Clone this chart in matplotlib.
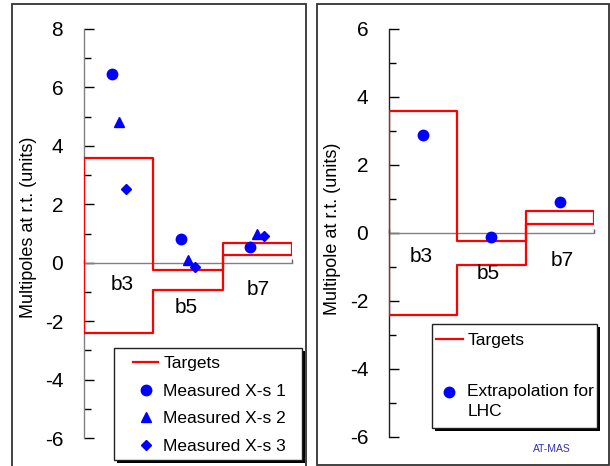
import numpy as np
import matplotlib
matplotlib.use("Agg")
import matplotlib.pyplot as plt
from matplotlib.patches import Rectangle

plt.rcParams['font.family'] = ['Liberation Sans', 'DejaVu Sans']

# ---------------- data ----------------
categories = ['b3', 'b5', 'b7']
target_upper = [3.6, -0.25, 0.66]
target_lower = [-2.4, -0.94, 0.27]
measured_1 = [6.45, 0.81, 0.54]
measured_2 = [4.83, 0.08, 0.99]
measured_3 = [2.53, -0.16, 0.90]
extrapolation_lhc = [2.87, -0.11, 0.90]

left_yticks = [-6, -4, -2, 0, 2, 4, 6, 8]
right_yticks = [-6, -4, -2, 0, 2, 4, 6]

# label placement (y in data units)
left_cat_label_y = [-0.75, -1.53, -0.92]
right_cat_label_y = [-0.68, -1.19, -0.80]

W, H = 610, 466
fig = plt.figure(figsize=(W / 100, H / 100), dpi=100)


def px_rect(x0, y0, x1, y1):
    """pixel box (top-left origin) -> figure fraction [l, b, w, h]"""
    return [x0 / W, 1 - y1 / H, (x1 - x0) / W, (y1 - y0) / H]


# outer panel frames
fig.patches.append(Rectangle((12 / W, -0.05), (305.5 - 12) / W, 1.05 - 4 / H,
                             transform=fig.transFigure, fill=False,
                             edgecolor='#333333', linewidth=1.3, zorder=0))
fig.patches.append(Rectangle((316.5 / W, 1 - 465 / H), (609 - 316.5) / W, (465 - 4) / H,
                             transform=fig.transFigure, fill=False,
                             edgecolor='#333333', linewidth=1.3, zorder=0))


def target_outline(upper, lower):
    n = len(upper)
    xs, ys = [0], [lower[0]]
    for i in range(n):
        xs += [i, i + 1]
        ys += [upper[i], upper[i]]
    for i in reversed(range(n)):
        xs += [i + 1, i]
        ys += [lower[i], lower[i]]
    xs.append(0)
    ys.append(lower[0])
    return np.array(xs), np.array(ys)


def style_axes(ax, ylim, yticks, spine_color):
    ax.set_xlim(0, 3)
    ax.set_ylim(*ylim)
    for s in ['top', 'right']:
        ax.spines[s].set_visible(False)
    ax.spines['left'].set_color(spine_color)
    ax.spines['left'].set_linewidth(1.0)
    ax.spines['bottom'].set_position(('data', 0))
    ax.spines['bottom'].set_color('#808080')
    ax.spines['bottom'].set_linewidth(1.0)
    ax.set_yticks(yticks)
    ax.set_yticks(np.arange(ylim[0] + 1, ylim[1], 2), minor=True)
    ax.tick_params(axis='y', which='major', direction='in', length=7, width=1,
                   color='black', labelsize=15, pad=15)
    ax.tick_params(axis='y', which='minor', direction='in', length=5, width=1,
                   color='black')
    ax.set_xticks([0, 3])
    ax.set_xticklabels(['', ''])
    ax.tick_params(axis='x', direction='in', length=3, width=1, color='#606060')
    ax.set_yticklabels([str(t) for t in yticks])


xs_t, ys_t = target_outline(target_upper, target_lower)
idx = np.arange(len(categories))

# ---------------- left panel ----------------
axL = fig.add_axes(px_rect(84, 29, 292, 438))
style_axes(axL, (-6, 8), left_yticks, '#808080')
axL.plot(xs_t, ys_t, color='red', lw=1.6, label='Targets', zorder=3)
axL.plot(idx + 0.4, measured_1, 'o', color='blue', ms=7.5, label='Measured X-s 1', zorder=4)
axL.plot(idx + 0.5, measured_2, '^', color='blue', ms=7.5, label='Measured X-s 2', zorder=4)
axL.plot(idx + 0.6, measured_3, 'D', color='blue', ms=5.5, label='Measured X-s 3', zorder=4)
for i, c in enumerate(categories):
    axL.text([0.55, 1.48, 2.52][i], left_cat_label_y[i], c, ha='center', va='center',
             fontsize=15)
axL.set_ylabel('Multipoles at r.t. (units)', fontsize=13, va='center')
axL.yaxis.set_label_coords((28.5 - 84) / 208, 0.516)

# manual legend frame with shadow
fig.patches.append(Rectangle(((114 + 3) / W, 1 - (460 + 3) / H), (302 - 114) / W, (460 - 348) / H,
                             transform=fig.transFigure, facecolor='black', edgecolor='none', zorder=5))
fig.patches.append(Rectangle((114 / W, 1 - 460 / H), (302 - 114) / W, (460 - 348) / H,
                             transform=fig.transFigure, facecolor='white', edgecolor='#222222',
                             lw=1.0, zorder=6))
legL = axL.legend(loc='upper left', bbox_to_anchor=(133 / W, 1 - 356 / H),
                  bbox_transform=fig.transFigure, frameon=False, fontsize=12.5,
                  borderpad=0, borderaxespad=0, handlelength=1.44, handletextpad=0.3,
                  labelspacing=0.72, numpoints=1)
legL.remove()
legL.set_zorder(7)
fig.legends.append(legL)

# ---------------- right panel ----------------
axR = fig.add_axes(px_rect(389, 29, 594, 437))
style_axes(axR, (-6, 6), right_yticks, '#202020')
axR.plot(xs_t, ys_t, color='red', lw=1.6, label='Targets', zorder=3)
axR.plot(idx + 0.5, extrapolation_lhc, 'o', color='blue', ms=7.5,
         label='\nExtrapolation for\nLHC', zorder=4)
for i, c in enumerate(categories):
    axR.text([0.47, 1.45, 2.53][i], right_cat_label_y[i], c, ha='center', va='center',
             fontsize=15)
axR.set_ylabel('Multipole at r.t. (units)', fontsize=13, va='center')
axR.yaxis.set_label_coords((333 - 389) / 205, 0.511)

fig.patches.append(Rectangle(((432 + 3) / W, 1 - (428 + 3) / H), (597 - 432) / W, (428 - 324) / H,
                             transform=fig.transFigure, facecolor='black', edgecolor='none', zorder=5))
fig.patches.append(Rectangle((432 / W, 1 - 428 / H), (597 - 432) / W, (428 - 324) / H,
                             transform=fig.transFigure, facecolor='white', edgecolor='#222222',
                             lw=1.0, zorder=6))
legR = axR.legend(loc='upper left', bbox_to_anchor=(436 / W, 1 - 333 / H),
                  bbox_transform=fig.transFigure, frameon=False, fontsize=12.5,
                  borderpad=0, borderaxespad=0, handlelength=1.55, handletextpad=0.25,
                  labelspacing=0.95, numpoints=1)
legR.get_texts()[1].set_linespacing(1.4)
legR.remove()
legR.set_zorder(7)
fig.legends.append(legR)

fig.text(552 / W, 1 - 449 / H, 'AT-MAS', color='#3333aa', fontsize=7.5,
         ha='center', va='center')

fig.savefig('out.png', dpi=100)
